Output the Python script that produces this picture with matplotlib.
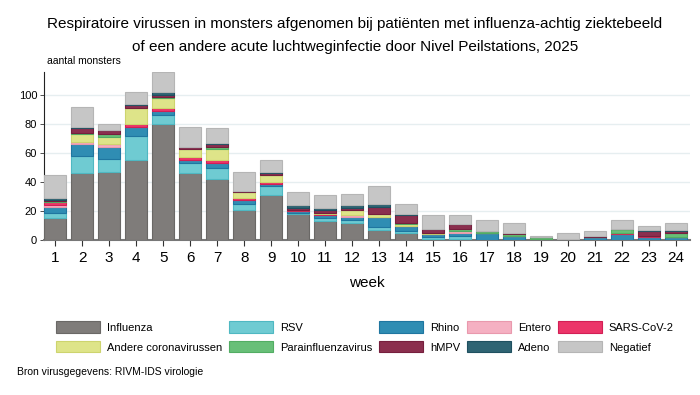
import numpy as np
import matplotlib
matplotlib.use('Agg')
import matplotlib.pyplot as plt
from matplotlib.patches import Patch

plt.rcParams['font.family'] = ['Liberation Sans', 'DejaVu Sans']

weeks = list(range(1, 25))
influenza = [15, 46, 47, 55, 80, 46, 42, 21, 31, 18, 13, 12, 7, 5, 1, 1, 0, 0, 0, 0, 0, 0, 0, 0]
rsv       = [4, 12, 9, 17, 6, 7, 8, 4, 6, 1, 2, 2, 2, 1, 1, 2, 0, 0, 0, 0, 0, 0, 0, 0]
rhino     = [4, 8, 8, 6, 3, 2, 3, 3, 2, 1, 2, 2, 7, 4, 2, 2, 5, 3, 0, 1, 2, 4, 2, 2]
entero    = [1, 2, 2, 0, 0, 0, 0, 0, 0, 0, 0, 1, 0, 0, 0, 1, 0, 0, 0, 0, 0, 0, 0, 0]
sars      = [2, 0, 0, 2, 2, 2, 2, 1, 1, 1, 1, 0, 0, 0, 0, 0, 0, 0, 1, 0, 0, 1, 1, 0]
andere    = [0, 5, 5, 11, 7, 6, 8, 4, 5, 0, 1, 4, 2, 1, 1, 0, 0, 0, 0, 0, 0, 0, 0, 0]
para      = [1, 1, 2, 0, 1, 0, 1, 0, 0, 0, 0, 0, 0, 1, 0, 2, 1, 1, 1, 0, 0, 3, 0, 3]
hmpv      = [1, 3, 3, 2, 1, 1, 2, 1, 1, 1, 2, 1, 5, 5, 3, 3, 0, 1, 0, 0, 1, 0, 3, 1]
adeno     = [1, 1, 0, 1, 2, 0, 1, 0, 1, 2, 1, 2, 2, 1, 0, 0, 0, 0, 0, 0, 0, 0, 1, 1]
negatief  = [16, 14, 4, 8, 14, 14, 10, 13, 8, 9, 9, 8, 12, 7, 9, 6, 8, 7, 1, 4, 3, 6, 3, 5]

series = [
    ('Influenza', influenza, '#7f7c7a', '#6a6866'),
    ('RSV', rsv, '#6fcbd2', '#4fb8c2'),
    ('Rhino', rhino, '#2f8db3', '#1f76a0'),
    ('Entero', entero, '#f5b0c2', '#e999ad'),
    ('SARS-CoV-2', sars, '#ec3569', '#d21f55'),
    ('Andere coronavirussen', andere, '#dee489', '#cdd46e'),
    ('Parainfluenzavirus', para, '#68bf78', '#52ad63'),
    ('hMPV', hmpv, '#8b2f4e', '#761f3d'),
    ('Adeno', adeno, '#2f6473', '#1f5060'),
    ('Negatief', negatief, '#c6c6c6', '#b5b5b5'),
]

fig = plt.figure(figsize=(7, 3.95), dpi=100)
ax = fig.add_axes([0.063, 0.392, 0.923, 0.426])

bottom = np.zeros(len(weeks))
handles = []
for naam, vals, kleur, rand in series:
    vals = np.array(vals, dtype=float)
    ax.bar(weeks, vals, bottom=bottom, width=0.8, color=kleur, edgecolor=rand,
           linewidth=0.8, zorder=3)
    bottom += vals
    handles.append(Patch(facecolor=kleur, edgecolor=rand, linewidth=0.8, label=naam))

ax.set_xlim(0.59, 24.52)
ax.set_ylim(0, 116)
ax.set_xticks(weeks)
ax.set_xticklabels([str(w) for w in weeks], fontsize=11)
ax.set_yticks([0, 20, 40, 60, 80, 100])
ax.tick_params(axis='y', labelsize=8, length=3, width=0.6, color='#333333', pad=2)
ax.tick_params(axis='x', length=4, width=0.8, color='#333333', pad=4)
ax.grid(axis='y', color='#e6eef0', linewidth=1, zorder=0)

for s in ['top', 'right']:
    ax.spines[s].set_visible(False)
ax.spines['left'].set_color('#222222')
ax.spines['left'].set_linewidth(0.8)
ax.spines['bottom'].set_color('#777777')
ax.spines['bottom'].set_linewidth(1.5)

ax.set_xlabel('week', fontsize=11, labelpad=8)

fig.text(0.507, 0.94, 'Respiratoire virussen in monsters afgenomen bij patiënten met influenza-achtig ziektebeeld',
         ha='center', va='center', fontsize=11)
fig.text(0.507, 0.882, 'of een andere acute luchtweginfectie door Nivel Peilstations, 2025',
         ha='center', va='center', fontsize=11)
fig.text(0.067, 0.845, 'aantal monsters', ha='left', va='center', fontsize=7.5)

# legenda rij voor rij vullen (matplotlib vult kolom voor kolom)
volgorde = [0, 5, 1, 6, 2, 7, 3, 8, 4, 9]
fig.legend(handles=[handles[i] for i in volgorde], ncol=5, loc='center left',
           bbox_to_anchor=(0.072, 0.147), frameon=False, fontsize=8,
           handlelength=4.0, handleheight=1.2, columnspacing=0.6,
           handletextpad=0.6, labelspacing=0.75, borderpad=0)

fig.text(0.024, 0.058, 'Bron virusgegevens: RIVM-IDS virologie', ha='left', va='center', fontsize=7.5)

plt.savefig('out.png', dpi=100)
